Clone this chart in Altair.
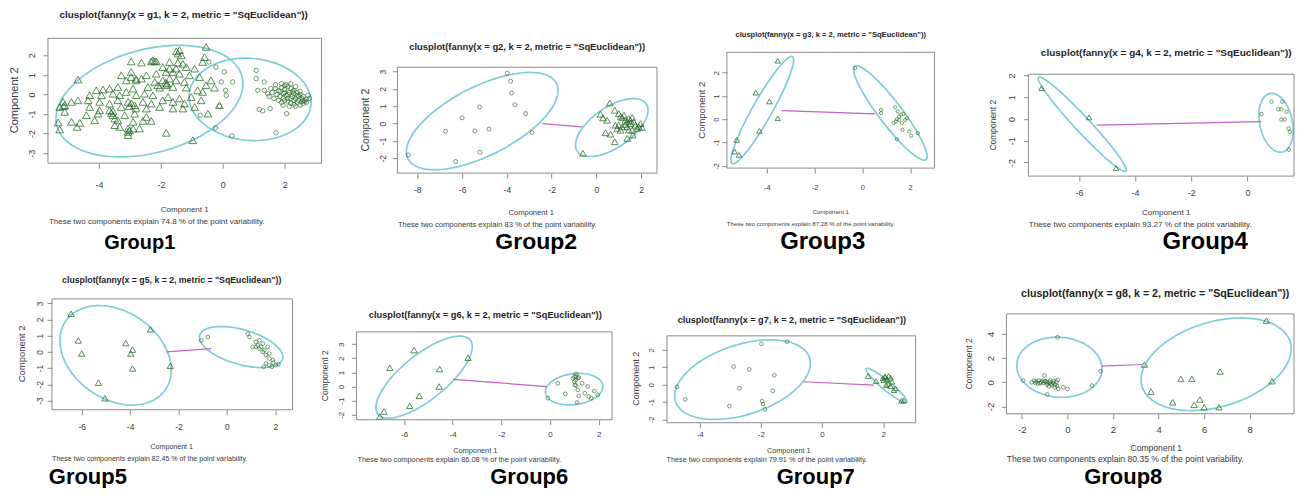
import altair as alt
import pandas as pd

# ------------------------------------------------------------------ data
group_names = ["Group1", "Group2", "Group3", "Group4", "Group5", "Group6", "Group7", "Group8"]
explained = ["74.8", "83", "87.28", "93.27", "82.45", "86.08", "79.91", "80.35"]

x_ticks = [[-4, -2, 0, 2], [-8, -6, -4, -2, 0, 2], [-4, -2, 0, 2], [-6, -4, -2, 0],
           [-6, -4, -2, 0, 2], [-6, -4, -2, 0, 2], [-4, -2, 0, 2], [-2, 0, 2, 4, 6, 8]]
y_ticks = [[-3, -2, -1, 0, 1, 2], [-2, -1, 0, 1, 2, 3], [-2, -1, 0, 1, 2], [-2, -1, 0, 1, 2],
           [-3, -2, -1, 0, 1, 2, 3], [-2, -1, 0, 1, 2, 3], [-2, -1, 0, 1, 2], [-2, 0, 2, 4]]
x_domains = [[-5.65, 3.19], [-8.89, 2.71], [-5.67, 3.02], [-7.80, 1.66],
             [-7.23, 2.71], [-7.96, 2.55], [-5.07, 3.06], [-2.67, 9.94]]
y_domains = [[-3.51, 2.87], [-2.86, 3.25], [-2.10, 2.87], [-2.62, 2.06],
             [-3.57, 3.27], [-2.35, 3.87], [-2.19, 2.81], [-2.60, 5.65]]

g1_triangles = [
    (-0.54, 2.43), (-1.40, 2.26), (-1.45, 2.09), (-1.34, 2.00), (-0.59, 1.91), (-0.65, 1.66), (-2.96, 1.69),
    (-2.63, 1.63), (-2.31, 1.69), (-2.26, 1.74), (-2.15, 1.69), (-1.72, 1.66), (-1.45, 1.63), (-1.29, 1.57),
    (-1.94, 1.40), (-1.72, 1.32), (-1.51, 1.32), (-1.18, 1.40), (-0.91, 1.32), (-2.96, 1.15), (-3.28, 0.98),
    (-2.96, 0.89), (-2.47, 0.98), (-2.15, 1.06), (-1.83, 1.15), (-1.61, 1.15), (-1.40, 1.06), (-1.08, 0.98),
    (-0.75, 0.89), (-4.68, 0.76), (-3.12, 0.72), (-2.80, 0.72), (-2.63, 0.81), (-2.20, 0.64), (-1.94, 0.72),
    (-1.72, 0.81), (-1.51, 0.72), (-1.24, 0.64), (-0.38, 0.72), (-0.54, 0.47), (-0.27, 0.35), (-4.09, 0.21),
    (-3.87, 0.25), (-3.66, 0.30), (-3.39, 0.38), (-2.90, 0.30), (-2.42, 0.38), (-2.10, 0.47), (-1.83, 0.47),
    (-2.04, 0.35), (-1.61, 0.38), (-1.18, 0.35), (-0.81, 0.21), (-0.65, 0.13), (-4.30, -0.04), (-3.92, -0.04),
    (-3.55, 0.04), (-3.33, -0.04), (-3.12, 0.13), (-2.80, -0.04), (-2.53, 0.04), (-2.26, -0.04), (-1.77, -0.13),
    (-1.40, -0.21), (-1.02, -0.13), (-0.70, -0.30), (-5.16, -0.38), (-4.89, -0.38), (-4.68, -0.30), (-4.35, -0.30),
    (-3.98, -0.38), (-3.66, -0.47), (-3.39, -0.30), (-3.06, -0.38), (-2.85, -0.55), (-2.58, -0.38), (-2.31, -0.47),
    (-1.94, -0.30), (-1.61, -0.38), (-1.24, -0.47), (-0.91, -0.64), (-0.11, -0.55), (-5.27, -0.64), (-5.11, -0.55),
    (-4.30, -0.64), (-3.98, -0.81), (-3.66, -0.81), (-3.28, -0.64), (-2.80, -0.72), (-2.47, -0.72), (-2.04, -0.64),
    (-1.61, -0.72), (-1.29, -0.72), (-0.48, -0.98), (-5.11, -0.89), (-4.41, -1.06), (-4.03, -0.98), (-3.55, -1.06),
    (-3.17, -1.06), (-2.85, -0.98), (-2.47, -1.15), (-3.49, -1.23), (-4.14, -1.32), (-4.89, -1.40), (-4.62, -1.45),
    (-3.39, -1.32), (-2.90, -1.40), (-2.58, -1.35), (-2.31, -1.35), (-5.32, -1.43), (-3.49, -1.57), (-3.33, -1.66),
    (-3.06, -1.74), (-2.69, -1.74), (-5.27, -1.79), (-4.71, -1.66), (-3.06, -1.91), (-3.01, -1.83), (-3.06, -2.08),
    (-1.83, -1.96), (-0.97, -2.34), (-2.95, -0.45), (-3.02, -0.60), (-3.60, -0.95), (-3.55, -0.85), (-2.90, -1.75),
    (-1.50, 2.20), (-2.20, 1.70), (-5.15, -0.60), (-2.80, 0.80), (-1.80, 0.55), (-1.85, 0.60)]
g1_circles = [
    (-0.45, 1.66), (-0.22, 1.40), (0.05, 1.15), (-0.05, 0.64), (0.32, 0.64), (0.09, 0.21), (0.11, -0.04),
    (-0.11, -0.60), (-0.73, -1.06), (-0.24, -1.71), (0.29, -2.12), (1.08, 1.23), (1.08, 0.81), (1.34, 0.64),
    (1.18, -0.77), (1.29, -0.84), (1.53, -0.72), (1.72, -1.96), (2.06, -0.98), (1.13, 0.21), (1.34, 0.21),
    (1.45, 0.04), (1.70, 0.30), (1.80, 0.20), (1.90, 0.35), (2.00, 0.25), (2.10, 0.40), (2.20, 0.30),
    (2.30, 0.20), (2.40, 0.10), (2.50, 0.00), (2.60, -0.10), (2.70, -0.25), (1.60, 0.10), (1.75, 0.00),
    (1.85, -0.10), (1.95, 0.05), (2.05, -0.05), (2.15, 0.10), (2.25, -0.10), (2.35, -0.20), (2.45, -0.30),
    (2.55, -0.20), (2.65, -0.35), (1.65, -0.20), (1.80, -0.30), (1.90, -0.40), (2.00, -0.30), (2.10, -0.20),
    (2.20, -0.45), (2.30, -0.50), (2.40, -0.40), (2.50, -0.55), (2.60, -0.45), (1.70, 0.50), (1.90, 0.55),
    (2.05, 0.50), (2.20, 0.55), (2.35, 0.40), (1.55, 0.30), (1.50, -0.10), (2.00, 0.10), (2.10, 0.00),
    (2.20, -0.20), (2.30, -0.30), (2.45, -0.10), (2.55, -0.35), (2.70, -0.40), (2.15, -0.60), (2.35, -0.60),
    (1.95, -0.55), (2.80, -0.20), (2.75, -0.05), (2.00, 0.45), (2.25, 0.15), (1.85, 0.15), (2.40, -0.05),
    (2.50, 0.15), (2.60, -0.30), (2.30, 0.05), (2.10, -0.35), (1.95, -0.20)]

g2_circles = [(-3.98, 2.90), (-3.83, 2.45), (-3.79, 1.76), (-3.64, 1.09), (-3.16, 0.58), (-2.87, -0.51),
              (-4.80, -0.32), (-5.43, -0.42), (-6.74, -0.44), (-6.00, 0.33), (-5.22, 0.96), (-5.20, -1.66),
              (-6.29, -2.19), (-8.40, -1.81)]
g2_triangles = [(0.60, 1.19), (0.18, 0.54), (0.30, 0.33), (0.48, 0.19), (0.82, 0.77), (1.00, 0.58), (1.08, 0.42),
                (1.15, 0.35), (1.23, 0.48), (1.30, 0.19), (1.38, 0.10), (1.45, 0.29), (1.52, 0.00), (1.60, 0.35),
                (1.67, 0.10), (1.75, -0.09), (1.90, -0.19), (2.04, -0.22), (1.97, 0.00), (0.85, -0.09),
                (0.93, -0.28), (1.00, -0.09), (1.08, -0.38), (1.15, -0.19), (1.38, -0.19), (1.45, -0.38),
                (1.60, -0.38), (0.41, -0.53), (0.63, -0.61), (0.82, -1.05), (1.38, -0.86), (1.63, -0.66),
                (-0.60, -1.71), (1.82, -0.28), (1.30, -0.05), (1.52, 0.20)]

g3_triangles = [(-3.54, 2.51), (-4.46, 1.14), (-3.89, 0.76), (-3.54, 0.04), (-4.31, -0.50), (-5.26, -0.89),
                (-5.35, -1.39), (-5.16, -1.53)]
g3_circles = [(-0.30, 2.19), (0.78, 0.40), (0.78, 0.26), (1.37, 0.51), (1.48, 0.33), (1.54, 0.11), (1.44, 0.00),
              (1.62, 0.19), (1.72, 0.23), (1.79, -0.03), (1.65, -0.17), (1.30, -0.17), (1.40, -0.10), (1.68, -0.46),
              (1.96, -0.53), (2.04, -0.71), (2.32, -0.60), (1.44, -0.86), (1.54, -0.03), (1.86, 0.04)]

g4_triangles = [(-7.33, 1.42), (-5.64, 0.08), (-4.68, -2.25)]
g4_circles = [(0.50, 0.23), (0.86, 0.80), (1.24, 0.80), (1.10, 0.45), (1.21, 0.45), (1.39, 0.34), (1.21, -0.02),
              (1.33, -0.02), (1.47, -0.43), (1.51, -0.58), (1.47, -1.40)]

g5_triangles = [(-6.44, 2.35), (-6.14, 0.71), (-6.00, -0.10), (-4.18, 0.55), (-3.90, 0.14), (-3.97, -0.10),
                (-3.90, -1.02), (-5.31, -1.90), (-5.04, -2.86), (-3.16, 1.39), (-2.34, -0.86)]
g5_circles = [(-1.06, 0.71), (-0.79, 0.92), (0.86, 1.12), (0.93, 0.92), (1.20, 0.61), (1.27, 0.41), (1.34, 0.71),
              (1.41, 0.31), (1.48, 0.51), (1.06, 0.31), (1.54, 0.10), (1.68, 0.31), (1.61, -0.20), (1.75, -0.10),
              (1.48, 0.00), (1.75, -0.41), (1.91, -0.67), (1.61, -0.71), (1.75, -0.82), (1.85, -0.92),
              (2.02, -0.82), (2.13, -0.76), (1.89, -0.51), (1.34, 0.20), (1.20, 0.31), (1.52, -0.92)]

g6_triangles = [(-5.59, 2.58), (-6.59, 1.33), (-4.54, 1.24), (-3.37, 2.04), (-4.56, 0.00), (-5.38, -0.66),
                (-5.77, -1.37), (-6.83, -1.77), (-7.00, -2.12)]
g6_circles = [(0.32, 0.23), (0.63, -0.52), (-0.09, -0.83), (1.07, 0.89), (1.07, 0.70), (1.05, 0.46), (1.00, 0.35),
              (1.14, 0.58), (1.18, 0.65), (1.02, 0.11), (1.07, 0.07), (1.32, 0.23), (1.14, -0.24), (1.43, -0.47),
              (1.55, 0.00), (1.59, -0.71), (1.69, -0.83), (1.82, -0.31), (1.96, -0.59), (1.18, -0.66),
              (1.11, -1.13), (0.94, 0.58), (1.00, 0.70)]

g7_circles = [(-1.98, 2.35), (-1.14, 2.48), (-2.89, 1.04), (-2.38, 0.88), (-1.56, 0.54), (-2.70, -0.21),
              (-1.61, -0.35), (-4.74, -0.12), (-4.47, -0.85), (-3.03, -1.23), (-1.96, -0.94), (-1.93, -1.12),
              (-1.87, -1.42)]
g7_triangles = [(1.51, 0.50), (1.77, 0.21), (1.99, 0.37), (2.07, 0.46), (2.13, 0.31), (2.18, 0.50), (2.24, 0.40),
                (2.29, 0.17), (2.16, 0.04), (2.10, -0.02), (2.24, -0.08), (2.35, -0.31), (2.40, -0.21),
                (2.60, -0.92), (2.67, -0.92), (2.02, 0.27), (2.05, 0.46)]

g8_circles = [(-0.43, 3.72), (1.46, 0.91), (1.08, -0.27), (-1.93, 0.14), (-0.88, -1.01), (-1.01, 0.56),
              (-1.56, 0.00), (-1.45, 0.14), (-1.35, 0.08), (-1.25, 0.14), (-1.15, 0.00), (-1.05, -0.05),
              (-0.95, 0.08), (-0.85, -0.10), (-0.78, 0.02), (-0.70, -0.12), (-0.62, -0.05), (-0.55, -0.20),
              (-0.48, 0.05), (-0.42, 0.20), (-0.40, -0.55), (-0.55, -0.42), (-0.18, -0.41), (0.01, -0.55),
              (-1.30, -0.10), (-1.10, 0.12), (-0.90, -0.20), (-0.75, 0.15), (-1.20, -0.08), (-1.00, 0.10),
              (-0.68, -0.25), (-0.45, -0.30), (-0.90, 0.00), (-1.40, -0.05), (-0.80, -0.35), (-0.60, 0.10)]
g8_triangles = [(8.73, 5.10), (8.98, 0.09), (6.70, 0.89), (4.98, 0.28), (5.46, 0.28), (3.38, 1.47), (3.67, -0.77),
                (4.62, -1.65), (5.56, -1.87), (5.81, -1.43), (6.00, -2.06), (6.65, -2.06)]

triangles = [g1_triangles, g2_triangles, g3_triangles, g4_triangles,
             g5_triangles, g6_triangles, g7_triangles, g8_triangles]
circles = [g1_circles, g2_circles, g3_circles, g4_circles,
           g5_circles, g6_circles, g7_circles, g8_circles]

# cluster ellipses: centre (cx, cy), x half-width A, y shift at the x-extreme B, conjugate half-height D
ellipses = [
    [(-2.37, -0.34, 3.02, 0.89, 2.71), (0.88, -0.25, 1.97, -0.15, 2.10)],
    [(-5.10, 0.145, 3.39, 1.77, 2.18), (0.69, -0.23, 1.62, 1.00, 1.34)],
    [(-4.19, 0.39, 1.31, 2.15, 0.82), (1.17, 0.27, 1.54, -1.87, 0.79)],
    [(-5.88, -0.24, 1.57, -2.11, 0.51), (1.02, -0.17, 0.61, -0.34, 1.31)],
    [(-4.60, -0.21, 2.30, -0.91, 2.93), (0.585, 0.30, 1.72, -0.61, 1.11)],
    [(-5.18, 0.665, 1.98, 2.15, 1.95), (0.99, -0.185, 1.18, 0.185, 1.10)],
    [(-2.60, 0.29, 2.22, 0.94, 2.09), (2.11, -0.05, 0.67, -0.93, 0.34)],
    [(-0.35, 1.245, 1.87, -0.14, 2.48), (6.525, 1.49, 3.29, 1.27, 3.61)],
]
# segment joining the two ellipses (x1, y1, x2, y2); none for group 1
segments = [None, (-2.42, 0.0, -0.63, -0.19), (-3.37, 0.37, 0.53, 0.23), (-5.37, -0.28, 0.50, -0.12),
            (-2.50, 0.0, -0.65, 0.20), (-3.99, 0.51, -0.13, 0.0), (-0.60, 0.17, 1.69, -0.02),
            (1.52, 1.33, 3.27, 1.47)]

# ------------------------------------------------------------------ layout (page pixels)
COL_X = [8, 340, 663, 970]
COL_W = [332, 323, 307, 327]
ROW_Y = [8, 250]
ROW_H = [242, 238]

LAYOUT = [
    dict(col=0, row=0, frame=(48, 322, 38, 163), title=(184, 15), ytitle=(15, 100), comp=(185, 210),
         sub=(157, 222), group=(140, 249), xgap=22, ygap=16, fs_title=9.9, fs_sub=8.0, fs_tick=9,
         fs_ytitle=11, fs_group=20, tri=60, cir=20),
    dict(col=1, row=0, frame=(398, 658, 67, 173), title=(528, 47), ytitle=(367, 120), comp=(532, 213),
         sub=(498, 225), group=(537, 249), xgap=17, ygap=15, fs_title=9.4, fs_sub=7.6, fs_tick=8.5,
         fs_ytitle=10.5, fs_group=23, tri=45, cir=16),
    dict(col=2, row=0, frame=(728, 936, 52, 168), title=(832, 35), ytitle=(703, 110), comp=(832, 212),
         sub=(812, 224), group=(824, 249), xgap=19, ygap=11, fs_title=7.6, fs_sub=6.1, fs_tick=7.5,
         fs_ytitle=9.5, fs_group=24, tri=30, cir=10),
    dict(col=3, row=0, frame=(1030, 1296, 74, 176), title=(1168, 53), ytitle=(995, 125), comp=(1168, 213),
         sub=(1142, 225), group=(1207, 249), xgap=17, ygap=17, fs_title=10.0, fs_sub=8.1, fs_tick=9,
         fs_ytitle=8.5, fs_group=24, tri=30, cir=12),
    dict(col=0, row=1, frame=(52, 293, 299, 410), title=(172, 280), ytitle=(22, 354), comp=(172, 447),
         sub=(150, 459), group=(88, 484), xgap=17, ygap=12, fs_title=8.75, fs_sub=7.1, fs_tick=8.5,
         fs_ytitle=9.5, fs_group=22, tri=40, cir=14),
    dict(col=1, row=1, frame=(357, 613, 332, 420), title=(486, 315), ytitle=(325, 376), comp=(476, 451),
         sub=(460, 460), group=(530, 484), xgap=15, ygap=15, fs_title=9.3, fs_sub=7.4, fs_tick=8,
         fs_ytitle=8.5, fs_group=22, tri=40, cir=14),
    dict(col=2, row=1, frame=(668, 917, 336, 423), title=(793, 320), ytitle=(637, 379), comp=(790, 451),
         sub=(768, 460), group=(817, 484), xgap=12, ygap=16, fs_title=9.1, fs_sub=7.3, fs_tick=8,
         fs_ytitle=9, fs_group=22, tri=30, cir=14),
    dict(col=3, row=1, frame=(1008, 1296, 314, 414), title=(1157, 294), ytitle=(970, 364), comp=(1158, 448),
         sub=(1127, 459), group=(1125, 484), xgap=16, ygap=16, fs_title=10.7, fs_sub=8.6, fs_tick=9.5,
         fs_ytitle=8.5, fs_group=22, tri=40, cir=14),
]

FONT_N = "Liberation Sans, Arial, sans-serif"
FONT_B = "Liberation Sans, Arial, sans-serif"
PT_COLOR = "#2a6b2a"
ELL_COLOR = "#7ccfd6"
SEG_COLOR = "#c464c4"
FRAME_COLOR = "#8a8a8a"
TEXT_COLOR = "#3a3a3a"
DUMMY = pd.DataFrame({"a": [0]})


def text_layer(txt, x, y, size, font=FONT_N, weight="normal", angle=0, baseline="middle", color=TEXT_COLOR):
    return alt.Chart(DUMMY).mark_text(
        text=txt, font=font, fontSize=size, fontWeight=weight, angle=angle,
        align="center", baseline=baseline, color=color,
    ).encode(x=alt.value(x), y=alt.value(y))


def build_panel(i):
    lay = LAYOUT[i]
    ox, oy = COL_X[lay["col"]], ROW_Y[lay["row"]]
    W, H = COL_W[lay["col"]], ROW_H[lay["row"]]
    L, R, T, B = lay["frame"][0] - ox, lay["frame"][1] - ox, lay["frame"][2] - oy, lay["frame"][3] - oy

    xs = alt.Scale(domain=x_domains[i], range=[L, R], nice=False, zero=False)
    ys = alt.Scale(domain=y_domains[i], range=[B, T], nice=False, zero=False)
    fs_tick = lay["fs_tick"]
    xaxis = alt.Axis(values=x_ticks[i], orient="bottom", offset=B - H, domain=False, grid=False,
                     tickSize=5, tickColor=FRAME_COLOR, labelFont=FONT_N, labelFontSize=fs_tick,
                     labelColor=TEXT_COLOR, labelPadding=max(0.0, lay["xgap"] - 5 - 0.5 * fs_tick),
                     labelFlush=False, labelOverlap=False, labelExpr="'' + datum.value", title=None)
    yaxis = alt.Axis(values=y_ticks[i], orient="left", offset=-L, domain=False, grid=False,
                     tickSize=5, tickColor=FRAME_COLOR, labelFont=FONT_N, labelFontSize=fs_tick,
                     labelColor=TEXT_COLOR, labelAngle=270, labelAlign="center", labelBaseline="bottom",
                     labelPadding=max(0.0, lay["ygap"] - 5 - 0.55 * fs_tick),
                     labelFlush=False, labelOverlap=False, labelExpr="'' + datum.value", title=None)

    layers = []
    for (cx, cy, A, Bv, D) in ellipses[i]:
        layers.append(
            alt.Chart(alt.sequence(0, 6.34, 0.04, as_="t"))
            .transform_calculate(ex=f"{cx} + {A} * cos(datum.t)",
                                 ey=f"{cy} + {Bv} * cos(datum.t) + {D} * sin(datum.t)")
            .mark_line(color=ELL_COLOR, strokeWidth=1.7)
            .encode(x=alt.X("ex:Q", scale=xs, axis=xaxis), y=alt.Y("ey:Q", scale=ys, axis=yaxis),
                    order="t:Q")
        )
    if segments[i] is not None:
        seg = pd.DataFrame([segments[i]], columns=["x", "y", "x2", "y2"])
        layers.append(
            alt.Chart(seg).mark_rule(color=SEG_COLOR, strokeWidth=1.2)
            .encode(x=alt.X("x:Q", scale=xs, axis=xaxis), y=alt.Y("y:Q", scale=ys, axis=yaxis),
                    x2="x2:Q", y2="y2:Q")
        )
    tri = pd.DataFrame(triangles[i], columns=["x", "y"])
    cir = pd.DataFrame(circles[i], columns=["x", "y"])
    layers.append(
        alt.Chart(tri).mark_point(shape="triangle-up", filled=False, size=lay["tri"], color=PT_COLOR,
                                  strokeWidth=0.9, opacity=0.85)
        .encode(x=alt.X("x:Q", scale=xs, axis=xaxis), y=alt.Y("y:Q", scale=ys, axis=yaxis))
    )
    layers.append(
        alt.Chart(cir).mark_point(shape="circle", filled=False, size=lay["cir"], color=PT_COLOR,
                                  strokeWidth=0.8, opacity=0.8)
        .encode(x=alt.X("x:Q", scale=xs, axis=xaxis), y=alt.Y("y:Q", scale=ys, axis=yaxis))
    )
    layers.append(
        alt.Chart(DUMMY).mark_rect(fillOpacity=0, stroke=FRAME_COLOR, strokeWidth=1)
        .encode(x=alt.value(L), x2=alt.value(R), y=alt.value(T), y2=alt.value(B))
    )
    title = f'clusplot(fanny(x = g{i + 1}, k = 2, metric = "SqEuclidean"))'
    sub = f"These two components explain {explained[i]} % of the point variability."
    layers.append(text_layer(title, lay["title"][0] - ox, lay["title"][1] - oy, lay["fs_title"],
                             weight="bold", color="#1e1e1e"))
    layers.append(text_layer("Component 2", lay["ytitle"][0] - ox, lay["ytitle"][1] - oy,
                             lay["fs_ytitle"], angle=270))
    layers.append(text_layer("Component 1", lay["comp"][0] - ox, lay["comp"][1] - oy, lay["fs_sub"]))
    layers.append(text_layer(sub, lay["sub"][0] - ox, lay["sub"][1] - oy, lay["fs_sub"]))
    layers.append(text_layer(group_names[i], lay["group"][0] - ox, lay["group"][1] - oy, lay["fs_group"],
                             font=FONT_B, weight="bold", baseline="alphabetic", color="#000000"))
    return alt.layer(*layers).properties(width=W, height=H)


panels = [build_panel(i) for i in range(8)]
chart = (
    alt.concat(*panels, columns=4, spacing=0, bounds="flush")
    .properties(padding=0, background="white")
    .configure_view(strokeWidth=0)
)
chart.save("out.html", embed_options={"renderer": "svg", "actions": False})
